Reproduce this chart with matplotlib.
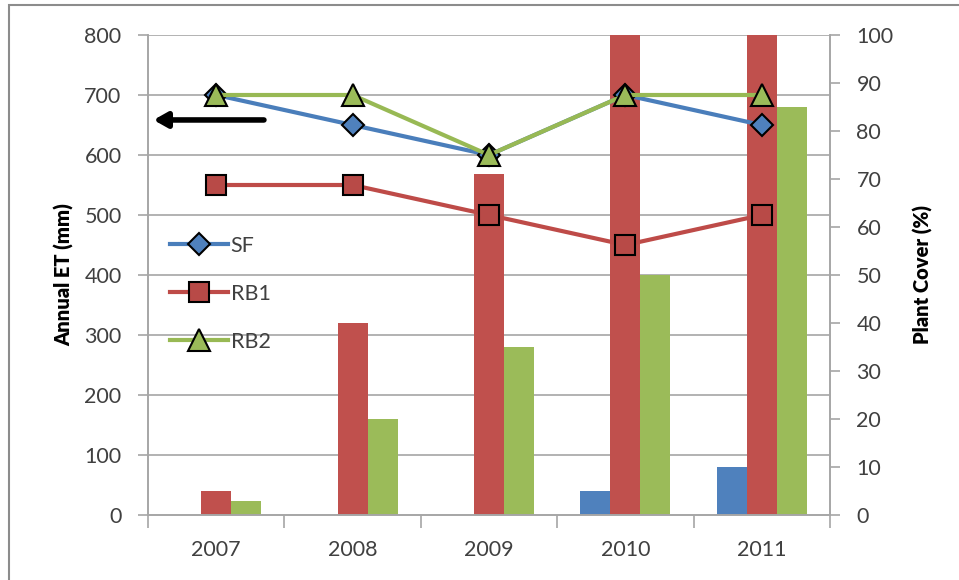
import numpy as np
import matplotlib
matplotlib.use("Agg")
import matplotlib.pyplot as plt
from matplotlib.patches import Rectangle

plt.rcParams['font.family'] = ['Lato', 'DejaVu Sans']

years = ['2007', '2008', '2009', '2010', '2011']

# plant cover (%) - bars, right axis
cover_sf = [0, 0, 0, 5, 10]
cover_rb1 = [5, 40, 71, 100, 100]
cover_rb2 = [3, 20, 35, 50, 85]

# annual ET (mm) - lines, left axis
et_sf = [700, 650, 600, 700, 650]
et_rb1 = [550, 550, 500, 450, 500]
et_rb2 = [700, 700, 600, 700, 700]

et_ticks = [0, 100, 200, 300, 400, 500, 600, 700, 800]
cover_ticks = [0, 10, 20, 30, 40, 50, 60, 70, 80, 90, 100]

blue = '#4F81BD'
red = '#C0504D'
green = '#9BBB59'
gridc = '#A6A6A6'
txt = '#404040'

fig = plt.figure(figsize=(9.59, 5.8), dpi=100)
ax = fig.add_axes([148/959, 1-515/580, 682/959, 480/580])
ax2 = ax.twinx()

x = np.arange(len(years))
w = 0.22

# gridlines on the bar axis so the bars cover them
for v in et_ticks[1:]:
    ax2.axhline(v/8, color=gridc, lw=1.2, zorder=0)

ax2.bar(x - w, cover_sf, w, color=blue, zorder=2)
ax2.bar(x, cover_rb1, w, color=red, zorder=2)
ax2.bar(x + w, cover_rb2, w, color=green, zorder=2)
ax2.set_ylim(0, 100)
ax2.set_yticks(cover_ticks)

ax.set_zorder(ax2.get_zorder() + 1)
ax.patch.set_visible(False)

ax.plot(x, et_sf, color='#4A7EBB', lw=3, marker='D', ms=11,
        mfc=blue, mec='black', mew=1.5, label='SF', zorder=3)
ax.plot(x, et_rb1, color='#BE4B48', lw=3, marker='s', ms=15,
        mfc='#B84A47', mec='black', mew=1.5, label='RB1', zorder=3)
ax.plot(x, et_rb2, color='#98B954', lw=3, marker='^', ms=16,
        mfc=green, mec='black', mew=1.5, label='RB2', zorder=4)

fs = 15.5
ax.set_ylim(0, 800)
ax.set_yticks(et_ticks)
ax.set_xlim(-0.5, len(years) - 0.5)
ax.set_xticks(x)
ax.set_xticklabels(years)
ax.set_xticks(np.arange(len(years) + 1) - 0.5, minor=True)
ax.tick_params(axis='x', which='major', length=0, pad=18, labelsize=fs, labelcolor=txt)
ax.tick_params(axis='x', which='minor', length=9, color=gridc, width=1.2)
ax.tick_params(axis='y', length=7, color=gridc, width=1.2, labelsize=fs, labelcolor=txt, pad=12)
ax2.tick_params(axis='y', length=7, color=gridc, width=1.2, labelsize=fs, labelcolor=txt, pad=12)

for a in (ax, ax2):
    a.spines['top'].set_visible(False)
    for s in ('left', 'right', 'bottom'):
        a.spines[s].set_color(gridc)
        a.spines[s].set_linewidth(1.2)

ax.set_ylabel('Annual ET (mm)', fontsize=14.5, fontweight='heavy', labelpad=7)
ax2.set_ylabel('Plant Cover (%)', fontsize=14.5, fontweight='heavy', labelpad=14)

ax.annotate('', xy=(0.008, 0.823), xytext=(0.17, 0.823), xycoords='axes fraction',
            arrowprops=dict(arrowstyle='-|>,head_length=0.8,head_width=0.45',
                            lw=4, color='black', shrinkA=0, shrinkB=0))

leg = ax.legend(loc='upper left', bbox_to_anchor=(0.02, 0.60), frameon=False,
                fontsize=fs, labelspacing=1.3, handlelength=2.7,
                handletextpad=0.1, borderaxespad=0)
for t in leg.get_texts():
    t.set_color(txt)

fig.patches.append(Rectangle((9/959, -0.05), 1.2, 1.05 - 5/580, transform=fig.transFigure,
                             fill=False, ec='#8C8C8C', lw=1.5))

fig.savefig('out.png', dpi=100)
